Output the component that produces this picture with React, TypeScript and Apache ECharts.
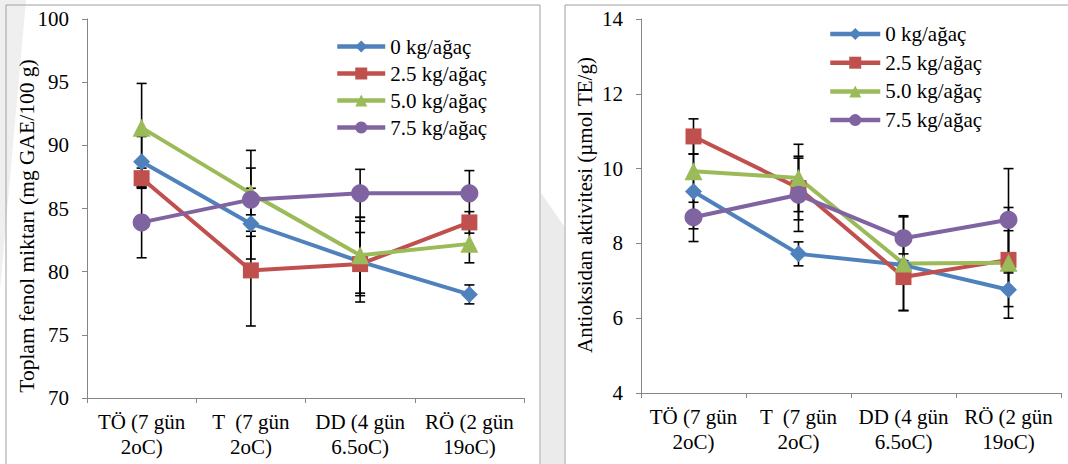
import React, { useEffect, useRef } from "react";
import * as echarts from "echarts";

const CATEGORIES = ["TÖ (7 gün\n2oC)", "T  (7 gün\n2oC)", "DD (4 gün\n6.5oC)", "RÖ (2 gün\n19oC)"];
const SERIES_NAMES = ["0 kg/ağaç", "2.5 kg/ağaç", "5.0 kg/ağaç", "7.5 kg/ağaç"];
const COLORS = ["#4F81BD", "#C0504D", "#9BBB59", "#8064A2"];
const SYMBOLS = ["diamond", "rect", "triangle", "circle"];
const SYMBOL_SIZES = [17, 16, 18, 18];

// Left: Toplam fenol miktarı (mg GAE/100 g)
const PHENOL_0 = [88.7, 83.8, 80.8, 78.2];
const PHENOL_25 = [87.4, 80.1, 80.6, 83.9];
const PHENOL_50 = [91.4, 86.2, 81.3, 82.2];
const PHENOL_75 = [83.9, 85.7, 86.2, 86.2];
const PHENOL_ERR_0 = [2.0, 2.8, 3.2, 0.75];
const PHENOL_ERR_25 = [0.8, 4.4, 2.5, 0.85];
const PHENOL_ERR_50 = [3.5, 3.4, 3.0, 1.5];
const PHENOL_ERR_75 = [2.8, 2.5, 1.9, 1.8];

// Right: Antioksidan aktivitesi (µmol TE/g)
const ANTI_0 = [9.39, 7.72, 7.42, 6.76];
const ANTI_25 = [10.86, 9.48, 7.1, 7.56];
const ANTI_50 = [9.93, 9.75, 7.46, 7.48];
const ANTI_75 = [8.7, 9.3, 8.14, 8.63];
const ANTI_ERR_0 = [1.0, 0.32, 0.3, 0.45];
const ANTI_ERR_25 = [0.47, 0.85, 0.9, 0.78];
const ANTI_ERR_50 = [0.83, 0.9, 1.25, 1.48];
const ANTI_ERR_75 = [0.65, 0.98, 0.6, 1.37];

const PHENOL_TICKS = { min: 70, max: 100, interval: 5 };
const ANTI_TICKS = { min: 4, max: 14, interval: 2 };

const FONT = "Liberation Serif";

export default function App() {
  const ref = useRef<HTMLDivElement>(null);
  useEffect(() => {
    if (!ref.current) return;
    const chart = echarts.init(ref.current, undefined, { renderer: "svg" });

    const left = [PHENOL_0, PHENOL_25, PHENOL_50, PHENOL_75];
    const leftErr = [PHENOL_ERR_0, PHENOL_ERR_25, PHENOL_ERR_50, PHENOL_ERR_75];
    const right = [ANTI_0, ANTI_25, ANTI_50, ANTI_75];
    const rightErr = [ANTI_ERR_0, ANTI_ERR_25, ANTI_ERR_50, ANTI_ERR_75];

    const errRender = (params: any, api: any) => {
      const x = api.value(0);
      const lo = api.coord([x, api.value(1)]);
      const hi = api.coord([x, api.value(2)]);
      const hw = 5;
      const st = { stroke: "#000", lineWidth: 1.6 };
      return {
        type: "group",
        children: [
          { type: "line", shape: { x1: lo[0], y1: lo[1], x2: hi[0], y2: hi[1] }, style: st },
          { type: "line", shape: { x1: lo[0] - hw, y1: lo[1], x2: lo[0] + hw, y2: lo[1] }, style: st },
          { type: "line", shape: { x1: hi[0] - hw, y1: hi[1], x2: hi[0] + hw, y2: hi[1] }, style: st },
        ],
      };
    };

    const series: any[] = [];
    [left, right].forEach((group, g) => {
      const errs = g === 0 ? leftErr : rightErr;
      group.forEach((vals, i) => {
        series.push({
          type: "custom",
          name: SERIES_NAMES[i] + " err",
          xAxisIndex: g,
          yAxisIndex: g,
          z: 1,
          renderItem: errRender,
          data: vals.map((v, k) => [k, v - errs[i][k], v + errs[i][k]]),
          silent: true,
        });
      });
      group.forEach((vals, i) => {
        series.push({
          type: "line",
          name: SERIES_NAMES[i],
          xAxisIndex: g,
          yAxisIndex: g,
          z: 3,
          data: vals,
          symbol: SYMBOLS[i],
          symbolSize: SYMBOL_SIZES[i],
          showAllSymbol: true,
          lineStyle: { width: 4, color: COLORS[i] },
          itemStyle: { color: COLORS[i] },
        });
      });
    });

    const axisColor = "#868686";
    const xAxisBase = (gridIndex: number) => ({
      type: "category",
      gridIndex,
      data: CATEGORIES,
      boundaryGap: true,
      axisLine: { lineStyle: { color: axisColor, width: 1 } },
      axisTick: { show: true, length: 5, lineStyle: { color: axisColor } },
      axisLabel: { interval: 0, fontFamily: FONT, fontSize: 21, color: "#000", margin: 11, lineHeight: 25 },
      splitLine: { show: false },
    });
    const yAxisBase = (gridIndex: number, t: any) => ({
      type: "value",
      gridIndex,
      min: t.min,
      max: t.max,
      interval: t.interval,
      axisLine: { show: true, lineStyle: { color: axisColor, width: 1 } },
      axisTick: { show: true, length: 5, lineStyle: { color: axisColor } },
      axisLabel: { fontFamily: FONT, fontSize: 21, color: "#000", margin: 18 },
      splitLine: { show: false },
    });

    const legendBase = (left: number, top: number, gap: number, w: number) => ({
      orient: "vertical",
      left,
      top,
      padding: 0,
      itemWidth: w,
      itemHeight: 15,
      itemGap: gap,
      data: SERIES_NAMES,
      lineStyle: { width: 4.5 },
      textStyle: { fontFamily: FONT, fontSize: 21, color: "#000", lineHeight: 21 },
    });

    chart.setOption({
      animation: false,
      backgroundColor: "#fff",
      textStyle: { fontFamily: FONT },
      grid: [
        { left: 87, top: 19, width: 437, height: 379 },
        { left: 641, top: 19, width: 420, height: 374 },
      ],
      xAxis: [xAxisBase(0), xAxisBase(1)],
      yAxis: [yAxisBase(0, PHENOL_TICKS), yAxisBase(1, ANTI_TICKS)],
      legend: [legendBase(335, 36, 6, 48), legendBase(828, 23.5, 7.7, 50)],
      graphic: [
        { type: "polygon", z: -10, shape: { points: [[0, 0], [26, 0], [0, 290]] }, style: { fill: "#efefef" } },
        { type: "polygon", z: -10, shape: { points: [[541, 193], [564, 226], [564, 464], [541, 464]] }, style: { fill: "#ebebeb" } },
        { type: "polyline", z: -5, shape: { points: [[6, 464], [6, 5], [540, 5], [540, 464]] }, style: { stroke: "#a0a0a0", lineWidth: 1, fill: null } },
        { type: "polyline", z: -5, shape: { points: [[565, 464], [565, 5], [1068, 5]] }, style: { stroke: "#a0a0a0", lineWidth: 1, fill: null } },
        {
          type: "text",
          x: 27,
          y: 226,
          rotation: Math.PI / 2,
          style: { text: "Toplam fenol miktarı (mg GAE/100 g)", fontFamily: FONT, fontSize: 21.5, fill: "#000", align: "center", verticalAlign: "middle" },
        },
        {
          type: "text",
          x: 585,
          y: 205,
          rotation: Math.PI / 2,
          style: { text: "Antioksidan aktivitesi (µmol TE/g)", fontFamily: FONT, fontSize: 21, fill: "#000", align: "center", verticalAlign: "middle" },
        },
      ],
      series,
    });
    return () => chart.dispose();
  }, []);
  return <div ref={ref} style={{ position: "absolute", left: 0, top: 0, width: 1068, height: 464, background: "#fff" }} />;
}
